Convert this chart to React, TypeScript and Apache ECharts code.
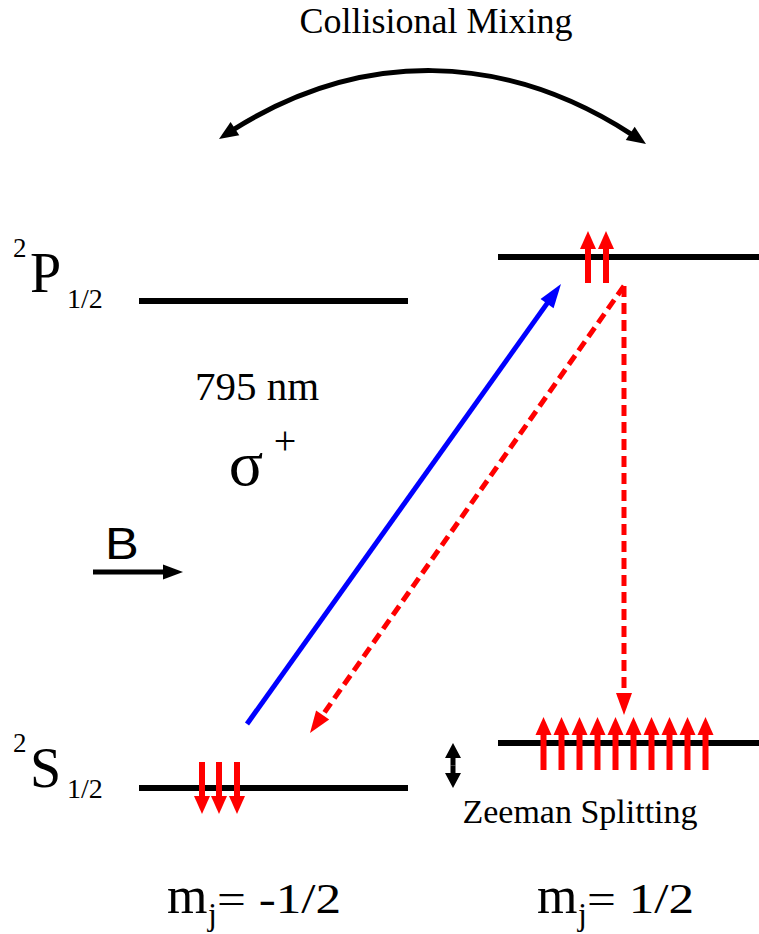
import React, { useEffect, useRef } from "react";
import * as echarts from "echarts";

const WIDTH = 759;
const HEIGHT = 934;

// ---------------- data (diagram units, y grows downward) ----------------
// energy levels
const levelX0 = [139, 498, 139, 498];
const levelX1 = [408, 759, 408, 759];
const levelY = [301, 257, 788, 743];

// spin population arrows: x positions, tail y, tip y
const spinUpPX = [588, 606];
const spinUpPTail = 283;
const spinUpPTip = 231;
const spinDownSX = [202, 219, 237];
const spinDownSTail = 762;
const spinDownSTip = 814;
const spinUpSX = [543.5, 561.5, 579.5, 597.5, 615.5, 633.5, 651.5, 669.5, 687.5, 705.5];
const spinUpSTail = 770;
const spinUpSTip = 717;

// transitions [x tail, y tail, x tip, y tip]
const pumpArrows = [[247, 724, 561, 284]];
const decayArrows = [
  [624, 286, 310, 733],
  [624, 286, 624, 715],
];
const fieldArrows = [[93, 572, 183, 572]];
const zeemanArrows = [
  [453, 765.5, 453, 743],
  [453, 765.5, 453, 788],
];
// collisional mixing arc: tip, control 1, control 2, tip
const mixingArc = [[219, 139, 356, 46, 509, 48, 646, 144]];

// texts
const titleText = "Collisional Mixing";
const wavelengthText = "795 nm";
const polarisationText = "σ";
const polarisationSign = "+";
const fieldText = "B";
const zeemanText = "Zeeman Splitting";
const termSup = "2";
const termP = "P";
const termS = "S";
const termSub = "1/2";
const mjLetter = "m";
const mjSub = "j";
const mjValues = ["= -1/2", "= 1/2"];

// ---------------- styles ----------------
const SERIF = "Liberation Serif, Times New Roman, serif";
const SANS = "Liberation Sans, Arial, sans-serif";
const RED = "#ff0000";
const BLUE = "#0000ff";

type ArrowStyle = {
  color: string;
  width: number;
  headLen: number;
  headW: number;
  dash?: number[];
};

function arrowSeries(id: string, data: number[][], st: ArrowStyle) {
  return {
    type: "custom",
    id,
    coordinateSystem: "cartesian2d",
    silent: true,
    encode: { x: [0, 2], y: [1, 3] },
    data,
    renderItem: (_params: any, api: any) => {
      const a = api.coord([api.value(0), api.value(1)]);
      const b = api.coord([api.value(2), api.value(3)]);
      const dx = b[0] - a[0];
      const dy = b[1] - a[1];
      const len = Math.hypot(dx, dy) || 1;
      const ux = dx / len;
      const uy = dy / len;
      const bx = b[0] - ux * st.headLen;
      const by = b[1] - uy * st.headLen;
      const nx = -uy;
      const ny = ux;
      const hw = st.headW / 2;
      return {
        type: "group",
        children: [
          {
            type: "line",
            shape: { x1: a[0], y1: a[1], x2: bx + ux * 2, y2: by + uy * 2 },
            style: {
              stroke: st.color,
              lineWidth: st.width,
              lineDash: st.dash || null,
              fill: "none",
            },
          },
          {
            type: "polygon",
            shape: {
              points: [
                [b[0], b[1]],
                [bx + nx * hw, by + ny * hw],
                [bx - nx * hw, by - ny * hw],
              ],
            },
            style: { fill: st.color, stroke: "none" },
          },
        ],
      };
    },
  };
}

function levelSeries() {
  return {
    type: "custom",
    id: "levels",
    coordinateSystem: "cartesian2d",
    silent: true,
    encode: { x: [0, 1], y: 2 },
    data: levelY.map((y, i) => [levelX0[i], levelX1[i], y]),
    renderItem: (_p: any, api: any) => {
      const a = api.coord([api.value(0), api.value(2)]);
      const b = api.coord([api.value(1), api.value(2)]);
      return {
        type: "line",
        shape: { x1: a[0], y1: a[1], x2: b[0], y2: b[1] },
        style: { stroke: "#000", lineWidth: 6, fill: "none" },
      };
    },
  };
}

type Pt = number[];
const lerp = (p: Pt, q: Pt, t: number): Pt => [p[0] + (q[0] - p[0]) * t, p[1] + (q[1] - p[1]) * t];
function splitCubic(p: Pt[], t: number): [Pt[], Pt[]] {
  const p01 = lerp(p[0], p[1], t);
  const p12 = lerp(p[1], p[2], t);
  const p23 = lerp(p[2], p[3], t);
  const p012 = lerp(p01, p12, t);
  const p123 = lerp(p12, p23, t);
  const m = lerp(p012, p123, t);
  return [
    [p[0], p01, p012, m],
    [m, p123, p23, p[3]],
  ];
}
function cubicAt(p: Pt[], t: number): Pt {
  return splitCubic(p, t)[0][3];
}
function tAtDist(p: Pt[], fromEnd: boolean, d: number): number {
  const ref = fromEnd ? p[3] : p[0];
  for (let i = 1; i <= 1000; i++) {
    const t = fromEnd ? 1 - i / 1000 : i / 1000;
    const q = cubicAt(p, t);
    if (Math.hypot(q[0] - ref[0], q[1] - ref[1]) >= d) return t;
  }
  return fromEnd ? 0 : 1;
}

function arcSeries() {
  const headLen = 19;
  const headW = 16;
  return {
    type: "custom",
    id: "mixing",
    coordinateSystem: "cartesian2d",
    silent: true,
    encode: { x: [0, 2, 4, 6], y: [1, 3, 5, 7] },
    data: mixingArc,
    renderItem: (_p: any, api: any) => {
      const pts: Pt[] = [0, 1, 2, 3].map((k) => api.coord([api.value(2 * k), api.value(2 * k + 1)]));
      const t0 = tAtDist(pts, false, headLen - 3);
      const t1 = tAtDist(pts, true, headLen - 3);
      const left = splitCubic(pts, t1)[0];
      const seg = splitCubic(left, t0 / t1)[1];
      const head = (tip: Pt, from: Pt) => {
        const dx = tip[0] - from[0];
        const dy = tip[1] - from[1];
        const l = Math.hypot(dx, dy) || 1;
        const ux = dx / l;
        const uy = dy / l;
        const bx = tip[0] - ux * headLen;
        const by = tip[1] - uy * headLen;
        return {
          type: "polygon",
          shape: {
            points: [
              tip,
              [bx - uy * headW / 2, by + ux * headW / 2],
              [bx + uy * headW / 2, by - ux * headW / 2],
            ],
          },
          style: { fill: "#000", stroke: "none" },
        };
      };
      const fromStart = cubicAt(pts, tAtDist(pts, false, headLen));
      const fromEnd = cubicAt(pts, tAtDist(pts, true, headLen));
      return {
        type: "group",
        children: [
          {
            type: "bezierCurve",
            shape: {
              x1: seg[0][0], y1: seg[0][1],
              cpx1: seg[1][0], cpy1: seg[1][1],
              cpx2: seg[2][0], cpy2: seg[2][1],
              x2: seg[3][0], y2: seg[3][1],
            },
            style: { stroke: "#000", lineWidth: 5, fill: "none" },
          },
          head(pts[0], fromStart),
          head(pts[3], fromEnd),
        ],
      };
    },
  };
}

function txt(
  text: string,
  x: number,
  baseline: number,
  size: number,
  align = "left",
  family = SERIF,
  scaleX = 1
) {
  return {
    type: "text",
    x,
    y: baseline - 0.34 * size,
    scaleX,
    silent: true,
    style: {
      text,
      fontSize: size,
      fontFamily: family,
      fill: "#000",
      align,
      verticalAlign: "middle",
      textAlign: align,
      textVerticalAlign: "middle",
    },
  };
}

export default function App() {
  const ref = useRef<HTMLDivElement>(null);
  useEffect(() => {
    if (!ref.current) return;
    const chart = echarts.init(ref.current, undefined, { renderer: "svg" });
    const spinUpP = spinUpPX.map((x) => [x, spinUpPTail, x, spinUpPTip]);
    const spinDownS = spinDownSX.map((x) => [x, spinDownSTail, x, spinDownSTip]);
    const spinUpS = spinUpSX.map((x) => [x, spinUpSTail, x, spinUpSTip]);
    const spinStyle: ArrowStyle = { color: RED, width: 6, headLen: 18, headW: 16 };
    chart.setOption({
      animation: false,
      backgroundColor: "#ffffff",
      grid: { left: 0, right: 0, top: 0, bottom: 0, containLabel: false },
      xAxis: { type: "value", min: 0, max: WIDTH, show: false },
      yAxis: { type: "value", min: 0, max: HEIGHT, inverse: true, show: false },
      series: [
        levelSeries(),
        arcSeries(),
        arrowSeries("pump", pumpArrows, { color: BLUE, width: 5, headLen: 24, headW: 16 }),
        arrowSeries("decay", decayArrows, { color: RED, width: 5, headLen: 22, headW: 16, dash: [11, 6] }),
        arrowSeries("spinUpP", spinUpP, spinStyle),
        arrowSeries("spinDownS", spinDownS, spinStyle),
        arrowSeries("spinUpS", spinUpS, spinStyle),
        arrowSeries("field", fieldArrows, { color: "#000", width: 5, headLen: 20, headW: 15 }),
        arrowSeries("zeeman", zeemanArrows, { color: "#000", width: 5, headLen: 15, headW: 16 }),
      ],
      graphic: [
        txt(titleText, 436, 33, 36, "center"),
        txt(termSup, 13, 257, 27),
        txt(termP, 30, 292, 56),
        txt(termSub, 67, 308, 28),
        txt(termSup, 13, 752, 27),
        txt(termS, 30, 787, 56),
        txt(termSub, 67, 798, 28),
        txt(wavelengthText, 257, 400, 41, "center"),
        txt(polarisationText, 246, 485, 64, "center"),
        txt(polarisationSign, 285, 454, 40, "center"),
        txt(fieldText, 105, 559, 44, "left", SANS, 1.15),
        txt(zeemanText, 580, 823, 34, "center"),
        txt(mjLetter, 167, 913, 52),
        txt(mjSub, 208, 925, 32),
        txt(mjValues[0], 217, 913, 42, "left", SERIF, 1.22),
        txt(mjLetter, 537, 913, 52),
        txt(mjSub, 578, 925, 32),
        txt(mjValues[1], 587, 913, 42, "left", SERIF, 1.22),
      ],
    });
    return () => chart.dispose();
  }, []);
  return (
    <div
      ref={ref}
      style={{ position: "fixed", left: 0, top: 0, width: WIDTH, height: HEIGHT }}
    />
  );
}
